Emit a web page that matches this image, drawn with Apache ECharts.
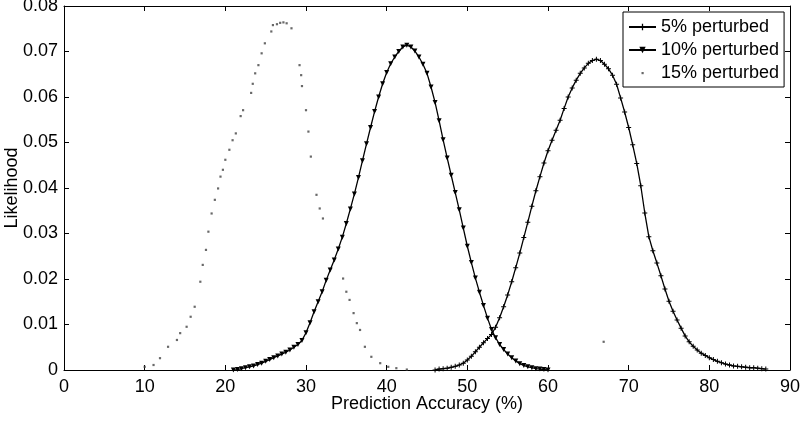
<!DOCTYPE html>
<html>
<head>
<meta charset="utf-8">
<script src="https://cdn.jsdelivr.net/npm/echarts@6/dist/echarts.min.js"></script>
<style>html,body{margin:0;padding:0;background:#fff}#c{width:800px;height:426px}</style>
</head>
<body>
<div id="c"></div>
<script>
var seriesNames = ['5% perturbed', '10% perturbed', '15% perturbed'];
var xTicks = [0, 10, 20, 30, 40, 50, 60, 70, 80, 90];
var yTicks = [0, 0.01, 0.02, 0.03, 0.04, 0.05, 0.06, 0.07, 0.08];

var acc5 = [46.0,46.5,47.0,47.5,48.0,48.5,49.0,49.5,50.0,50.5,51.0,51.5,52.0,52.5,53.0,53.5,54.0,54.5,55.0,55.5,56.0,56.5,57.0,57.5,58.0,58.5,59.0,59.5,60.0,60.5,61.0,61.5,62.0,62.5,63.0,63.5,64.0,64.5,65.0,65.5,66.0,66.5,67.0,67.5,68.0,68.5,69.0,69.5,70.0,70.5,71.0,71.5,72.0,72.5,73.0,73.5,74.0,74.5,75.0,75.5,76.0,76.5,77.0,77.5,78.0,78.5,79.0,79.5,80.0,80.5,81.0,81.5,82.0,82.5,83.0,83.5,84.0,84.5,85.0,85.5,86.0,86.5,87.0];
var lik5 = [0.0000,0.0002,0.0003,0.0004,0.0006,0.0008,0.0011,0.0015,0.0022,0.0030,0.0040,0.0050,0.0060,0.0069,0.0078,0.0094,0.0115,0.0139,0.0165,0.0194,0.0225,0.0257,0.0291,0.0325,0.0360,0.0394,0.0425,0.0455,0.0482,0.0505,0.0527,0.0549,0.0575,0.0600,0.0620,0.0637,0.0652,0.0664,0.0674,0.0680,0.0683,0.0680,0.0672,0.0662,0.0648,0.0628,0.0598,0.0567,0.0533,0.0495,0.0454,0.0405,0.0345,0.0293,0.0262,0.0235,0.0207,0.0178,0.0151,0.0129,0.0110,0.0092,0.0075,0.0062,0.0052,0.0044,0.0037,0.0032,0.0027,0.0023,0.0019,0.0016,0.0013,0.0011,0.0009,0.0008,0.0007,0.0006,0.0005,0.0005,0.0004,0.0003,0.0002];

var acc10 = [21.0,21.5,22.0,22.5,23.0,23.5,24.0,24.5,25.0,25.5,26.0,26.5,27.0,27.5,28.0,28.5,29.0,29.5,30.0,30.5,31.0,31.5,32.0,32.5,33.0,33.5,34.0,34.5,35.0,35.5,36.0,36.5,37.0,37.5,38.0,38.5,39.0,39.5,40.0,40.5,41.0,41.5,42.0,42.5,43.0,43.5,44.0,44.5,45.0,45.5,46.0,46.5,47.0,47.5,48.0,48.5,49.0,49.5,50.0,50.5,51.0,51.5,52.0,52.5,53.0,53.5,54.0,54.5,55.0,55.5,56.0,56.5,57.0,57.5,58.0,58.5,59.0,59.5,60.0];
var lik10 = [0.0000,0.0001,0.0003,0.0005,0.0007,0.0009,0.0012,0.0015,0.0019,0.0023,0.0027,0.0031,0.0035,0.0039,0.0044,0.0050,0.0056,0.0065,0.0082,0.0104,0.0128,0.0150,0.0172,0.0197,0.0220,0.0242,0.0266,0.0292,0.0322,0.0354,0.0387,0.0423,0.0460,0.0497,0.0533,0.0568,0.0600,0.0629,0.0654,0.0673,0.0688,0.0700,0.0710,0.0714,0.0710,0.0701,0.0688,0.0672,0.0652,0.0622,0.0588,0.0548,0.0506,0.0466,0.0428,0.0390,0.0352,0.0312,0.0272,0.0236,0.0202,0.0171,0.0142,0.0114,0.0089,0.0071,0.0056,0.0045,0.0035,0.0027,0.0020,0.0014,0.0010,0.0007,0.0005,0.0003,0.0002,0.0001,0.0000];

var acc15 = [10.0,11.1,11.9,12.9,14.0,14.4,15.2,15.7,16.2,16.9,17.2,17.6,17.9,18.3,18.7,19.1,19.4,19.7,20.0,20.5,20.9,21.3,21.9,22.2,23.2,23.4,23.7,24.1,24.5,24.9,25.7,25.9,26.4,26.8,27.2,27.6,28.2,29.2,29.4,29.5,30.0,30.3,30.6,31.3,31.7,32.1,34.6,35.0,35.4,35.9,36.3,36.7,37.3,38.1,39.2,40.2,41.2,42.5,66.9];
var lik15 = [0.0007,0.0011,0.0026,0.0051,0.0066,0.0081,0.0095,0.0117,0.0139,0.0194,0.0231,0.0264,0.0304,0.0344,0.0374,0.0399,0.0425,0.0440,0.0462,0.0484,0.0505,0.0520,0.0558,0.0571,0.0609,0.0629,0.0652,0.0670,0.0696,0.0718,0.0744,0.0758,0.0760,0.0763,0.0764,0.0762,0.0751,0.0670,0.0648,0.0624,0.0571,0.0524,0.0469,0.0385,0.0355,0.0333,0.0201,0.0172,0.0154,0.0125,0.0103,0.0088,0.0051,0.0029,0.0015,0.0007,0.0004,0.0001,0.0062];

function zip(a, b) { return a.map(function (v, i) { return [v, b[i]]; }); }

var FONT = '"Liberation Sans", Arial, Helvetica, sans-serif';
var chart = echarts.init(document.getElementById('c'), null, { renderer: 'canvas' });
var plusPath = 'path://M4,0h2v4h4v2h-4v4h-2v-4h-4v-2h4z';
var dotIcon = 'path://M0,0M27,8M12.5,3h2.2v2.2h-2.2z';

var axisBase = {
  type: 'value',
  axisLine: { show: true, onZero: false, lineStyle: { color: '#000', width: 1 } },
  axisTick: { show: true, inside: true, length: 5, lineStyle: { color: '#000' } },
  splitLine: { show: false }
};

chart.setOption({
  animation: false,
  backgroundColor: '#fff',
  textStyle: { fontFamily: FONT },
  grid: { left: 64, right: 10, top: 6, bottom: 56, containLabel: false, outerBoundsMode: 'none' },
  legend: {
    orient: 'vertical',
    left: 623, top: 12,
    padding: [6, 5, 5, 5],
    itemWidth: 27, itemHeight: 8, itemGap: 5,
    backgroundColor: '#fff',
    borderColor: '#000', borderWidth: 1,
    selectedMode: false,
    textStyle: { fontFamily: FONT, fontSize: 18, color: '#000' },
    data: [
      { name: seriesNames[0] },
      { name: seriesNames[1] },
      { name: seriesNames[2], icon: dotIcon }
    ]
  },
  xAxis: [
    Object.assign({}, axisBase, {
      position: 'bottom', min: xTicks[0], max: xTicks[xTicks.length - 1], interval: 10,
      axisLabel: { color: '#000', fontSize: 18, fontFamily: FONT, margin: 8 },
      name: 'Prediction Accuracy (%)', nameLocation: 'middle', nameGap: 25, nameMoveOverlap: false,
      nameTextStyle: { color: '#000', fontSize: 18, fontFamily: FONT }
    }),
    Object.assign({}, axisBase, {
      position: 'top', min: xTicks[0], max: xTicks[xTicks.length - 1], interval: 10,
      axisLabel: { show: false }
    })
  ],
  yAxis: [
    Object.assign({}, axisBase, {
      position: 'left', min: yTicks[0], max: yTicks[yTicks.length - 1], interval: 0.01,
      axisLabel: { color: '#000', fontSize: 18, fontFamily: FONT, margin: 6 },
      name: 'Likelihood', nameLocation: 'middle', nameGap: 43, nameMoveOverlap: false,
      nameTextStyle: { color: '#000', fontSize: 18, fontFamily: FONT }
    }),
    Object.assign({}, axisBase, {
      position: 'right', min: yTicks[0], max: yTicks[yTicks.length - 1], interval: 0.01,
      axisLabel: { show: false }
    })
  ],
  series: [
    {
      name: seriesNames[0], type: 'line', data: zip(acc5, lik5),
      color: '#000', symbol: plusPath, symbolSize: 5, showSymbol: true,
      lineStyle: { color: '#000', width: 1.3 }, itemStyle: { color: '#000' }
    },
    {
      name: seriesNames[1], type: 'line', data: zip(acc10, lik10),
      color: '#000', symbol: 'triangle', symbolRotate: 180, symbolSize: 5, showSymbol: true,
      lineStyle: { color: '#000', width: 1.3 }, itemStyle: { color: '#000' }
    },
    {
      name: seriesNames[2], type: 'scatter', data: zip(acc15, lik15),
      color: '#444', symbol: 'rect', symbolSize: 2.2,
      itemStyle: { color: '#444' }
    }
  ]
});
</script>
</body>
</html>
